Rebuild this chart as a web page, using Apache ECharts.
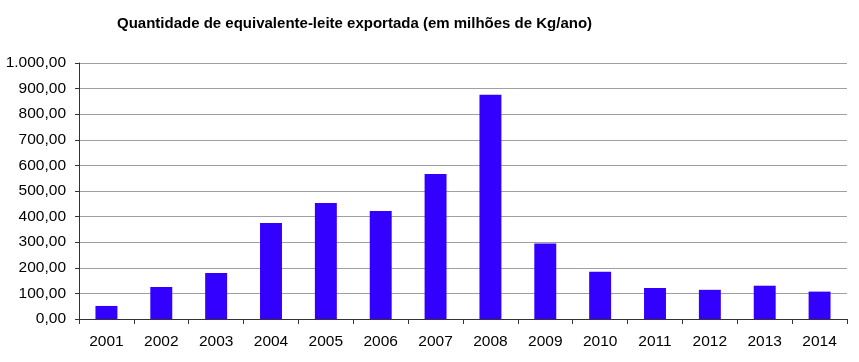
<!DOCTYPE html>
<html><head><meta charset="utf-8">
<script src="https://cdn.jsdelivr.net/npm/echarts@6/dist/echarts.min.js"></script>
<style>html,body{margin:0;padding:0;background:#fff}#c{width:859px;height:362px}</style>
</head><body><div id="c"></div>
<script>
const categories = ['2001','2002','2003','2004','2005','2006','2007','2008','2009','2010','2011','2012','2013','2014'];
const values = [51, 125, 180, 375, 453, 422, 566, 876, 295, 185, 121, 114, 130, 107];
const titleText = 'Quantidade de equivalente-leite exportada (em milhões de Kg/ano)';
function fmt(v){
  const s = Math.round(v).toString().replace(/\B(?=(\d{3})+(?!\d))/g,'.');
  return s + ',00';
}
const chart = echarts.init(document.getElementById('c'));
chart.setOption({
  animation:false,
  title:{text:titleText,left:112,top:11,textStyle:{fontFamily:'Liberation Sans, Arial',fontSize:15,fontWeight:'bold',color:'#000'}},
  grid:{left:79,right:12,top:63,bottom:43,containLabel:false},
  xAxis:{type:'category',data:categories,
    axisLine:{lineStyle:{color:'#333',width:1}},
    axisTick:{show:true,length:5,lineStyle:{color:'#333'}},
    axisLabel:{fontFamily:'Liberation Sans, Arial',fontSize:15.5,color:'#000',margin:15}},
  yAxis:{type:'value',min:0,max:1000,interval:100,
    axisLine:{show:true,lineStyle:{color:'#333',width:1}},
    axisTick:{show:true,length:4,lineStyle:{color:'#333'}},
    splitLine:{lineStyle:{color:'#a0a0a0',width:1}},
    axisLabel:{fontFamily:'Liberation Sans, Arial',fontSize:15.5,color:'#000',margin:13,formatter:fmt}},
  series:[{type:'bar',data:values,barWidth:'40%',itemStyle:{color:'#3300ff'}}]
});
</script></body></html>
